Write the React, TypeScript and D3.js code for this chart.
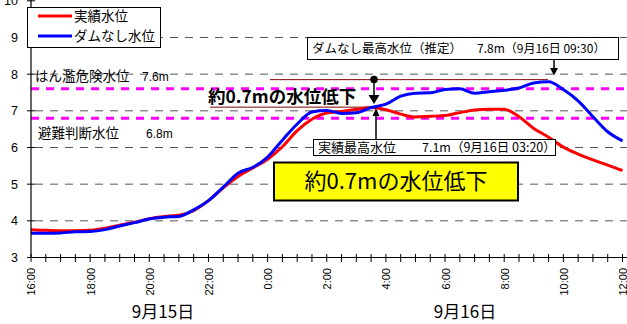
import React from 'react';
import * as d3 from 'd3';

const times = [
  '2019-09-15 16:00', '2019-09-15 16:30', '2019-09-15 17:00', '2019-09-15 17:30',
  '2019-09-15 18:00', '2019-09-15 18:30', '2019-09-15 19:00', '2019-09-15 19:30',
  '2019-09-15 20:00', '2019-09-15 20:30', '2019-09-15 21:00', '2019-09-15 21:30',
  '2019-09-15 22:00', '2019-09-15 22:30', '2019-09-15 23:00', '2019-09-15 23:30',
  '2019-09-16 00:00', '2019-09-16 00:30', '2019-09-16 01:00', '2019-09-16 01:30',
  '2019-09-16 02:00', '2019-09-16 02:30', '2019-09-16 03:00', '2019-09-16 03:30',
  '2019-09-16 04:00', '2019-09-16 04:30', '2019-09-16 05:00', '2019-09-16 05:30',
  '2019-09-16 06:00', '2019-09-16 06:30', '2019-09-16 07:00', '2019-09-16 07:30',
  '2019-09-16 08:00', '2019-09-16 08:30', '2019-09-16 09:00', '2019-09-16 09:30',
  '2019-09-16 10:00', '2019-09-16 10:30', '2019-09-16 11:00', '2019-09-16 11:30',
  '2019-09-16 12:00',
];

// 実績水位
const actualLevel = [
  3.76, 3.74, 3.73, 3.73, 3.74, 3.80, 3.88, 3.96, 4.06, 4.12,
  4.15, 4.28, 4.55, 4.90, 5.21, 5.44, 5.68, 6.02, 6.46, 6.77,
  6.94, 6.98, 7.04, 7.09, 7.03, 6.91, 6.83, 6.85, 6.87, 6.95,
  7.02, 7.04, 7.04, 6.84, 6.52, 6.28, 6.01, 5.82, 5.66, 5.52,
  5.37,
];

// ダムなし水位
const noDamLevel = [
  3.66, 3.66, 3.67, 3.70, 3.71, 3.76, 3.86, 3.95, 4.05, 4.10,
  4.12, 4.30, 4.55, 4.92, 5.30, 5.46, 5.74, 6.20, 6.64, 6.97,
  7.01, 6.93, 6.95, 7.09, 7.18, 7.40, 7.48, 7.49, 7.58, 7.60,
  7.48, 7.52, 7.56, 7.62, 7.76, 7.79, 7.58, 7.27, 6.84, 6.43,
  6.18,
];

const yTicks = [3, 4, 5, 6, 7, 8, 9, 10];
const xLabelTimes = [
  '2019-09-15 16:00', '2019-09-15 18:00', '2019-09-15 20:00', '2019-09-15 22:00',
  '2019-09-16 00:00', '2019-09-16 02:00', '2019-09-16 04:00', '2019-09-16 06:00',
  '2019-09-16 08:00', '2019-09-16 10:00', '2019-09-16 12:00',
];
const dateLabels = ['9月15日', '9月16日'];
const legendLabels = ['実績水位', 'ダムなし水位'];
const dangerLevel = 7.6;
const evacLevel = 6.8;

const W = 627;
const H = 324;
const JP = '"Noto Sans CJK JP", "Noto Sans", sans-serif';
const LAT = '"Liberation Sans", Arial, sans-serif';

export default function App() {
  const parse = d3.timeParse('%Y-%m-%d %H:%M');
  const dates = times.map((t) => parse(t) as Date);
  const x = d3.scaleTime().domain([dates[0], dates[dates.length - 1]]).range([31, 622.5]);
  const y = d3.scaleLinear().domain([3, 10]).range([257.5, 0.8]);
  const plotRight = 627;

  const line = d3
    .line<number>()
    .x((_, i) => x(dates[i]))
    .y((d) => y(d))
    .curve(d3.curveMonotoneX);

  const minorTicks = x.ticks(d3.timeMinute.every(30) as any);
  const fmt = d3.timeFormat('%-H:%M');

  return (
    <svg width={W} height={H} style={{ position: 'absolute', left: 0, top: 0, background: '#fff' }}>
      <rect x={0} y={0} width={W} height={H} fill="#fff" />
      {/* grid */}
      {yTicks.filter((v) => v > 3 && v < 10).map((v) => (
        <line key={'g' + v} x1={35} x2={plotRight} y1={y(v)} y2={y(v)} stroke="#555" strokeWidth={1} strokeDasharray="8,7" />
      ))}
      {/* reference lines */}
      {[dangerLevel, evacLevel].map((v) => (
        <line key={'r' + v} x1={31} x2={plotRight} y1={y(v)} y2={y(v)} stroke="#ff00ff" strokeWidth={3} strokeDasharray="8,7" />
      ))}
      <text x={35} y={81} fontFamily={JP} fontSize={13.5} fill="#000">はん濫危険水位</text>
      <text x={142} y={81} fontFamily={LAT} fontSize={12} fill="#000">7.6m</text>
      <text x={38} y={138} fontFamily={JP} fontSize={13.5} fill="#000">避難判断水位</text>
      <text x={146} y={138} fontFamily={LAT} fontSize={12} fill="#000">6.8m</text>

      {/* difference guide lines */}
      <line x1={270} x2={548} y1={y(7.85)} y2={y(7.85)} stroke="#800000" strokeWidth={1} />
      <line x1={210} x2={376} y1={y(7.1)} y2={y(7.1)} stroke="#800000" strokeWidth={1} />

      {/* series */}
      <path d={line(actualLevel) || ''} fill="none" stroke="#ff0000" strokeWidth={3} strokeLinejoin="round" />
      <path d={line(noDamLevel) || ''} fill="none" stroke="#0000ff" strokeWidth={3} strokeLinejoin="round" />

      {/* axes */}
      <line x1={31} x2={31} y1={0} y2={257.5} stroke="#000" strokeWidth={1.2} />
      <line x1={31} x2={plotRight} y1={257.5} y2={257.5} stroke="#000" strokeWidth={1.2} />
      {yTicks.map((v) => (
        <g key={'y' + v}>
          <line x1={27} x2={35} y1={y(v)} y2={y(v)} stroke="#000" />
          <text x={18} y={y(v)} dy="0.36em" textAnchor="end" fontFamily={LAT} fontSize={12.5} fill="#000">{v}</text>
        </g>
      ))}
      {minorTicks.map((t, i) => (
        <line key={'xt' + i} x1={x(t)} x2={x(t)} y1={254} y2={262} stroke="#000" />
      ))}
      {xLabelTimes.map((s) => {
        const t = parse(s) as Date;
        return (
          <text key={s} transform={`translate(${x(t) + 0.5},268) rotate(-90)`} dy="0.36em" textAnchor="end" fontFamily={LAT} fontSize={11} fill="#000">
            {fmt(t)}
          </text>
        );
      })}
      <text x={163} y={318} textAnchor="middle" fontFamily={JP} fontSize={17} fill="#000">{dateLabels[0]}</text>
      <text x={465} y={318} textAnchor="middle" fontFamily={JP} fontSize={17} fill="#000">{dateLabels[1]}</text>

      {/* legend */}
      <rect x={27.5} y={7.5} width={133} height={40} fill="#fff" stroke="#000" strokeWidth={1} />
      <line x1={38} x2={72} y1={16} y2={16} stroke="#ff0000" strokeWidth={3} />
      <line x1={38} x2={72} y1={36} y2={36} stroke="#0000ff" strokeWidth={3} />
      <text x={74} y={16} dy="0.36em" fontFamily={JP} fontSize={13.5} fill="#000">{legendLabels[0]}</text>
      <text x={74} y={36} dy="0.36em" fontFamily={JP} fontSize={13.5} fill="#000">{legendLabels[1]}</text>

      {/* bold difference label + arrow */}
      <text x={208} y={103} fontFamily={JP} fontSize={17.5} fontWeight="bold" fill="#000">約0.7mの水位低下</text>
      <circle cx={374} cy={79.5} r={3.8} fill="#000" />
      <line x1={374} x2={374} y1={80} y2={96} stroke="#000" strokeWidth={1.5} />
      <path d="M368.5,95 L379.5,95 L374,104 Z" fill="#000" />

      {/* no-dam max box */}
      <rect x={307.5} y={37.5} width={311} height={22} fill="#fff" stroke="#000" strokeWidth={1} />
      <text x={312} y={48.5} dy="0.36em" fontFamily={JP} fontSize={12.5} fill="#000">ダムなし最高水位（推定）</text>
      <text x={477} y={48.5} dy="0.36em" fontFamily={JP} fontSize={12} fill="#000">7.8m（9月16日 09:30）</text>
      <line x1={554} x2={554} y1={60} y2={69} stroke="#000" strokeWidth={1.5} />
      <path d="M550,68 L558,68 L554,75.5 Z" fill="#000" />

      {/* actual max box */}
      <line x1={376} x2={376} y1={139} y2={115} stroke="#000" strokeWidth={1.5} />
      <path d="M372.5,116 L379.5,116 L376,108 Z" fill="#000" />
      <rect x={313.5} y={139.5} width={242} height={16} fill="#fff" stroke="#000" strokeWidth={1} />
      <text x={318} y={147.5} dy="0.36em" fontFamily={JP} fontSize={13} fill="#000">実績最高水位</text>
      <text x={422} y={147.5} dy="0.36em" fontFamily={JP} fontSize={12.5} fill="#000">7.1m（9月16日 03:20）</text>

      {/* yellow callout */}
      <rect x={274} y={162.5} width={244} height={38} fill="#ffff00" stroke="#000" strokeWidth={2} />
      <text x={396} y={181.5} dy="0.36em" textAnchor="middle" fontFamily={JP} fontSize={22} fill="#000">約0.7mの水位低下</text>
    </svg>
  );
}
